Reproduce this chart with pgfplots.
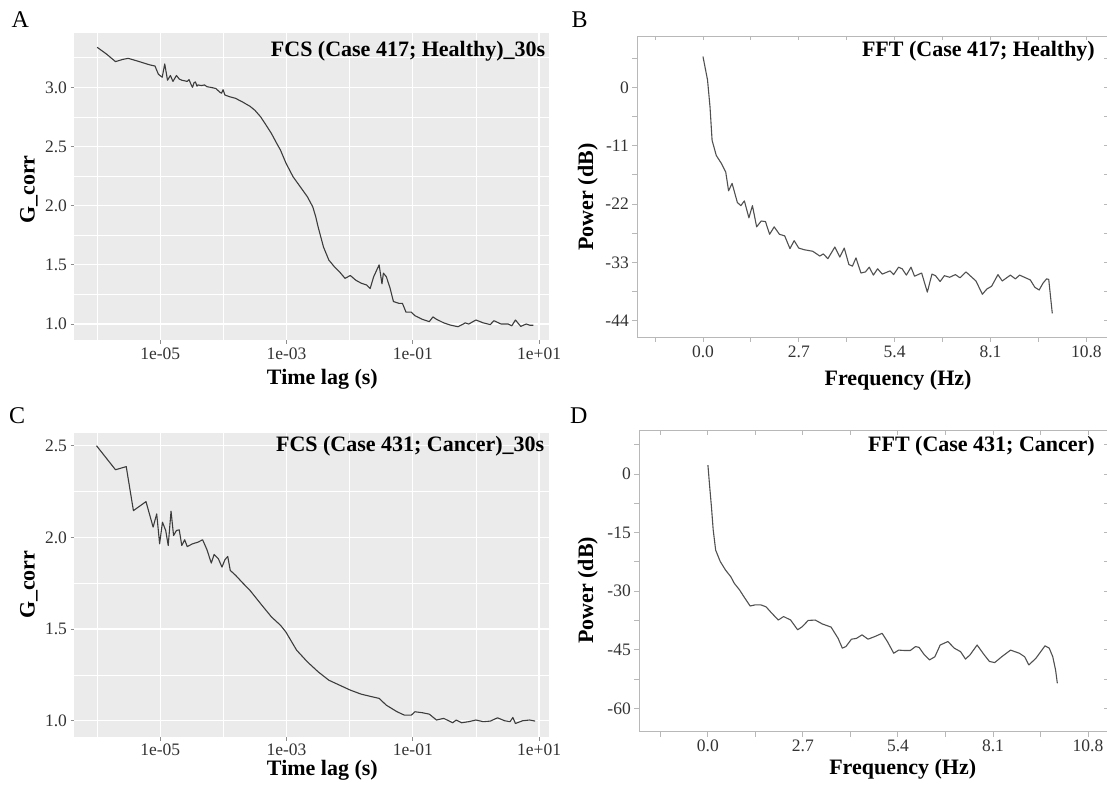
\documentclass[border=0pt]{standalone}
\usepackage{fontspec}
\setmainfont{Liberation Serif}
\usepackage{pgfplots}
\pgfplotsset{compat=1.18}
\usepackage{pgfplotstable}
\definecolor{ggbg}{HTML}{EBEBEB}
\definecolor{boxgray}{HTML}{B8B8B8}
\definecolor{curveA}{HTML}{3C3C3C}
\definecolor{curveB}{HTML}{505050}
\definecolor{ticklab}{HTML}{333333}
\newcommand{\ticksize}{\fontsize{17.5}{19}\selectfont}
\newcommand{\labsize}{\fontsize{22}{24}\selectfont\bfseries}
\newcommand{\letsize}{\fontsize{24}{26}\selectfont}

\pgfplotstableread{
lx g
-6.000 3.338
-5.85 3.28
-5.71 3.217
-5.60 3.235
-5.51 3.245
-5.35 3.22
-5.17 3.19
-5.085 3.18
-5.03 3.11
-4.97 3.085
-4.93 3.197
-4.886 3.06
-4.84 3.10
-4.80 3.05
-4.744 3.10
-4.70 3.07
-4.66 3.06
-4.574 3.05
-4.545 3.065
-4.51 3.02
-4.49 3.00
-4.465 3.04
-4.443 3.045
-4.42 3.01
-4.403 3.02
-4.347 3.015
-4.30 3.02
-4.26 3.005
-4.205 3.00
-4.12 2.99
-4.06 2.96
-4.03 2.95
-4.006 2.98
-3.977 2.935
-3.90 2.92
-3.807 2.907
-3.75 2.89
-3.693 2.875
-3.63 2.855
-3.58 2.84
-3.50 2.805
-3.41 2.75
-3.33 2.685
-3.24 2.61
-3.17 2.54
-3.097 2.47
-3.01 2.36
-2.898 2.245
-2.784 2.16
-2.67 2.075
-2.585 1.99
-2.54 1.91
-2.5 1.82
-2.415 1.65
-2.33 1.54
-2.244 1.485
-2.16 1.44
-2.074 1.386
-1.99 1.41
-1.903 1.37
-1.818 1.345
-1.733 1.33
-1.676 1.30
-1.62 1.40
-1.534 1.50
-1.489 1.34
-1.466 1.43
-1.42 1.40
-1.364 1.31
-1.307 1.19
-1.222 1.175
-1.165 1.175
-1.108 1.10
-1.023 1.10
-0.966 1.07
-0.852 1.04
-0.739 1.02
-0.682 1.06
-0.625 1.04
-0.511 1.01
-0.398 0.99
-0.284 0.977
-0.20 1.00
-0.17 1.01
-0.114 1.00
0.0 1.034
0.114 1.01
0.227 0.995
0.284 1.028
0.398 1.00
0.511 1.00
0.568 0.985
0.625 1.034
0.71 0.98
0.795 1.00
0.852 0.99
0.909 0.99
}\fcsA

\pgfplotstableread{
lx g
-6.011 2.500
-5.71 2.369
-5.54 2.386
-5.426 2.146
-5.227 2.195
-5.114 2.056
-5.057 2.128
-5.011 1.965
-4.966 2.083
-4.915 2.038
-4.875 1.956
-4.83 2.143
-4.79 2.010
-4.744 2.038
-4.70 2.041
-4.66 1.956
-4.614 1.987
-4.574 1.950
-4.489 1.965
-4.403 1.974
-4.33 1.987
-4.26 1.932
-4.193 1.860
-4.148 1.907
-4.08 1.883
-4.023 1.838
-3.977 1.878
-3.932 1.896
-3.892 1.820
-3.807 1.793
-3.693 1.751
-3.58 1.711
-3.41 1.638
-3.239 1.566
-3.097 1.521
-3.011 1.484
-2.841 1.385
-2.67 1.321
-2.5 1.267
-2.33 1.221
-2.16 1.194
-1.99 1.167
-1.818 1.145
-1.648 1.131
-1.534 1.122
-1.42 1.085
-1.25 1.049
-1.136 1.031
-1.023 1.031
-0.966 1.049
-0.852 1.044
-0.739 1.036
-0.625 1.004
-0.511 1.013
-0.369 0.989
-0.313 1.004
-0.227 0.989
-0.114 0.995
0.0 1.004
0.114 0.995
0.227 0.998
0.341 1.016
0.455 1.000
0.54 0.995
0.585 1.018
0.625 0.985
0.739 1.000
0.852 1.004
0.938 0.998
}\fcsC

\pgfplotstableread{
f p
0 5.8
0.128 1.4
0.198 -3.67
0.257 -10.0
0.375 -12.85
0.524 -14.4
0.642 -16.0
0.721 -19.5
0.82 -18.1
0.968 -21.7
1.067 -22.3
1.166 -21.4
1.294 -24.6
1.393 -22.3
1.512 -26.3
1.64 -25.2
1.76 -25.3
1.877 -27.7
2.006 -26.3
2.154 -27.7
2.302 -28.0
2.45 -30.4
2.569 -28.9
2.698 -30.3
2.846 -30.6
3.093 -30.9
3.29 -31.8
3.39 -31.4
3.518 -32.3
3.715 -30.1
3.854 -32.0
3.98 -30.3
4.11 -33.4
4.21 -33.7
4.31 -32.15
4.45 -35.0
4.575 -34.8
4.684 -33.9
4.80 -35.4
4.92 -34.2
5.05 -35.2
5.27 -34.6
5.37 -35.3
5.51 -33.9
5.61 -34.2
5.73 -35.4
5.86 -33.9
5.96 -35.6
6.16 -35.0
6.32 -38.6
6.45 -35.2
6.55 -35.5
6.68 -36.6
6.80 -35.5
6.95 -35.8
7.11 -35.3
7.24 -35.9
7.41 -34.8
7.69 -36.5
7.87 -39.0
8.0 -38.0
8.13 -37.5
8.31 -35.3
8.43 -36.5
8.66 -35.4
8.80 -36.1
8.92 -35.4
9.22 -36.3
9.35 -37.7
9.47 -38.2
9.58 -36.9
9.68 -36.1
9.74 -36.2
9.84 -42.6
}\fftB

\pgfplotstableread{
f p
0 2.3
0.05 -3.2
0.10 -8.4
0.15 -14.3
0.22 -19.5
0.35 -22.4
0.50 -24.6
0.65 -26.3
0.75 -28.0
0.90 -29.7
1.05 -31.8
1.20 -33.8
1.35 -33.5
1.50 -33.5
1.65 -34.0
1.80 -35.5
2.00 -37.4
2.15 -36.5
2.35 -37.4
2.55 -39.9
2.68 -39.1
2.85 -37.5
3.05 -37.4
3.25 -38.4
3.50 -39.2
3.70 -42.1
3.82 -44.6
3.92 -44.2
4.08 -42.3
4.22 -42.1
4.38 -41.2
4.55 -42.3
4.75 -41.6
4.95 -40.8
5.10 -42.9
5.28 -45.9
5.42 -45.1
5.58 -45.2
5.75 -45.2
5.90 -44.2
6.00 -44.4
6.15 -46.3
6.30 -47.6
6.45 -46.8
6.60 -43.8
6.82 -42.9
7.00 -44.6
7.18 -45.5
7.32 -47.4
7.45 -46.3
7.65 -43.8
7.85 -46.3
8.00 -48.0
8.15 -48.3
8.35 -46.8
8.60 -45.1
8.85 -45.9
9.00 -46.8
9.12 -48.9
9.32 -47.2
9.58 -44.0
9.70 -44.6
9.80 -46.8
9.88 -50.2
9.93 -53.6
}\fftD

\pgfplotsset{
  common/.style={scale only axis, anchor=south west,
    tick label style={font=\ticksize, text=ticklab},
    label style={font=\labsize},
  },
  ggstyle/.style={common,
    axis background/.style={fill=ggbg},
    axis line style={draw=none},
    xtick={1e-5,1e-3,1e-1,1e1}, xticklabels={1e-05,1e-03,1e-01,1e+01},
    minor xtick={1e-6,1e-4,1e-2,1},
    grid=both,
    major grid style={white, line width=1.3pt},
    minor grid style={white, line width=0.6pt},
    tick align=outside, xtick pos=left, ytick pos=left,
    major tick length=4pt, minor tick length=0pt,
    tick style={black!45, line width=0.7pt},
    xmin=4.37e-7, xmax=14.1,
    xlabel={Time lag (s)}, ylabel={G\_corr},
  },
  fftstyle/.style={common,
    axis line style={draw=boxgray, line width=0.9pt},
    tick align=outside, xtick pos=left, ytick pos=left,
    major tick length=5pt, minor tick length=5pt,
    tick style={draw=boxgray, line width=0.9pt},
    xtick={0,2.7,5.4,8.1,10.8}, xticklabels={0.0,2.7,5.4,8.1,10.8},
    minor xtick={-1.35,1.35,4.05,6.75,9.45},
    xlabel={Frequency (Hz)}, ylabel={Power (dB)},
  },
  fftinstyle/.style={scale only axis, anchor=south west,
    axis line style={draw=none},
    tick align=inside, xtick pos=right, ytick pos=right,
    major tick length=4pt, minor tick length=4pt,
    tick style={draw=boxgray, line width=0.9pt},
    xtick={0,2.7,5.4,8.1,10.8},
    minor xtick={-1.35,1.35,4.05,6.75,9.45},
    xticklabels={}, yticklabels={},
  },
}

\begin{document}
\begin{tikzpicture}
\useasboundingbox (0,0) rectangle (1107pt,787pt);

% Panel A
\begin{axis}[xmode=log, ggstyle, at={(74.5pt,447pt)}, width=474pt, height=307pt,
  ymin=0.865, ymax=3.459,
  ytick={1,1.5,2,2.5,3}, yticklabels={1.0,1.5,2.0,2.5,3.0},
  minor ytick={1.25,1.75,2.25,2.75,3.25},
  xlabel style={at={(axis description cs:0.523,-0.127)}, anchor=center},
  ylabel style={at={(axis description cs:-0.096,0.49)}, anchor=center},
]
\addplot[curveA, line width=1.1pt, line join=round] table[x expr={10^(\thisrow{lx})}, y=g] {\fcsA};
\node[anchor=base east, font=\labsize, inner sep=0pt, xshift=-3pt, yshift=-23.5pt] at (rel axis cs:1,1) {FCS (Case 417; Healthy)\_30s};
\end{axis}

% Panel C
\begin{axis}[xmode=log, ggstyle, at={(74.5pt,50.3pt)}, width=474pt, height=304pt,
  ymin=0.913, ymax=2.571,
  ytick={1,1.5,2,2.5}, yticklabels={1.0,1.5,2.0,2.5},
  minor ytick={1.25,1.75,2.25},
  xlabel style={at={(axis description cs:0.523,-0.112)}, anchor=center},
  ylabel style={at={(axis description cs:-0.096,0.5)}, anchor=center},
]
\addplot[curveA, line width=1.1pt, line join=round] table[x expr={10^(\thisrow{lx})}, y=g] {\fcsC};
\node[anchor=base east, font=\labsize, inner sep=0pt, xshift=-4pt, yshift=-19pt] at (rel axis cs:1,1) {FCS (Case 431; Cancer)\_30s};
\end{axis}

% Panel B
\begin{axis}[fftstyle, at={(637.3pt,450pt)}, width=470.7pt, height=301pt,
  xmin=-1.85, xmax=11.41, ymin=-47.06, ymax=9.68,
  ytick={-44,-33,-22,-11,0}, yticklabels={-44,-33,-22,-11,0},
  minor ytick={-38.5,-27.5,-16.5,-5.5,5.5},
  xlabel style={at={(axis description cs:0.554,-0.143)}, anchor=center},
  ylabel style={at={(axis description cs:-0.105,0.465)}, anchor=center},
]
\addplot[curveB, line width=1.1pt, line join=round] table[x=f, y=p] {\fftB};
\node[anchor=base east, font=\labsize, inner sep=0pt, xshift=-13pt, yshift=-20.6pt] at (rel axis cs:1,1) {FFT (Case 417; Healthy)};
\end{axis}
\begin{axis}[fftinstyle, at={(637.3pt,450pt)}, width=470.7pt, height=301pt,
  xmin=-1.85, xmax=11.41, ymin=-47.06, ymax=9.68,
  ytick={-44,-33,-22,-11,0}, minor ytick={-38.5,-27.5,-16.5,-5.5,5.5},
]
\end{axis}

% Panel D
\begin{axis}[fftstyle, at={(639.3pt,55.3pt)}, width=468.7pt, height=301pt,
  xmin=-1.95, xmax=11.37, ymin=-66.0, ymax=11.1,
  ytick={-60,-45,-30,-15,0}, yticklabels={-60,-45,-30,-15,0},
  minor ytick={-52.5,-37.5,-22.5,-7.5,7.5},
  xlabel style={at={(axis description cs:0.562,-0.125)}, anchor=center},
  ylabel style={at={(axis description cs:-0.11,0.47)}, anchor=center},
]
\addplot[curveB, line width=1.1pt, line join=round] table[x=f, y=p] {\fftD};
\node[anchor=base east, font=\labsize, inner sep=0pt, xshift=-13pt, yshift=-20.3pt] at (rel axis cs:1,1) {FFT (Case 431; Cancer)};
\end{axis}
\begin{axis}[fftinstyle, at={(639.3pt,55.3pt)}, width=468.7pt, height=301pt,
  xmin=-1.95, xmax=11.37, ymin=-66.0, ymax=11.1,
  ytick={-60,-45,-30,-15,0}, minor ytick={-52.5,-37.5,-22.5,-7.5,7.5},
]
\end{axis}

% Panel letters
\node[anchor=base west, font=\letsize, inner sep=0pt] at (11.5pt,759pt) {A};
\node[anchor=base west, font=\letsize, inner sep=0pt] at (571.5pt,759.3pt) {B};
\node[anchor=base west, font=\letsize, inner sep=0pt] at (9pt,363.7pt) {C};
\node[anchor=base west, font=\letsize, inner sep=0pt] at (570pt,363.7pt) {D};
\end{tikzpicture}
\end{document}
